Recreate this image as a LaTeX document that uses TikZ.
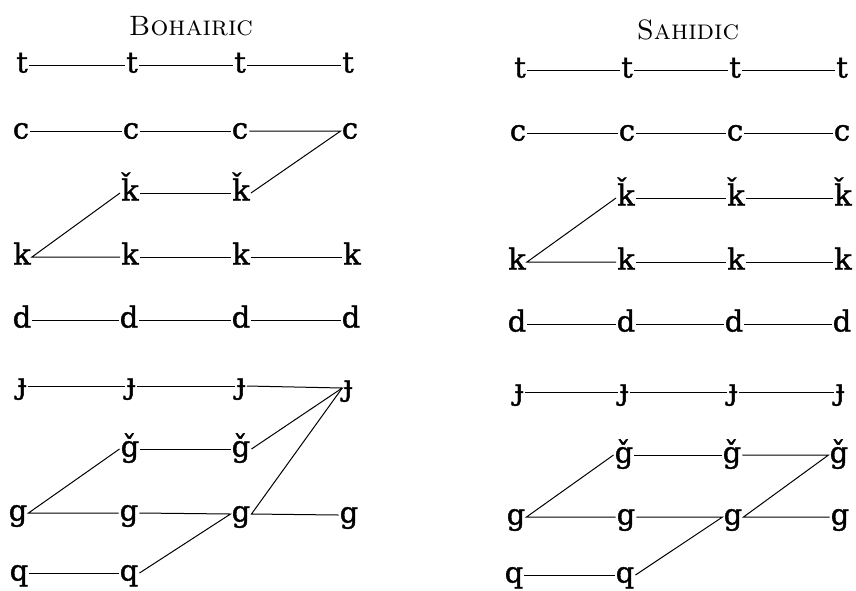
\documentclass[tikz,border=0pt]{standalone}
\usepackage{fontspec}
\newfontfamily\letterfont[FakeBold=1.3]{DejaVu Serif}
\begin{document}
\begin{tikzpicture}[x=1pt,y=-1pt,
  ltr/.style={font=\letterfont\fontsize{29}{34}\selectfont, inner sep=1pt, text height=20pt, text depth=5pt},
  ttl/.style={font=\fontsize{28}{32}\selectfont\scshape, inner sep=0pt, anchor=base},
  ln/.style={line width=1pt}]
\useasboundingbox (0,0) rectangle (856,590);
% titles
\node[ttl] (LT) at (191,35) {Bohairic};
\node[ttl] (RT) at (688,39) {Sahidic};
% ---------- Bohairic ----------
\node[ltr] (Lt1) at (22,65) {t};
\node[ltr] (Lt2) at (132,65) {t};
\node[ltr] (Lt3) at (240,65) {t};
\node[ltr] (Lt4) at (348,65) {t};
\node[ltr] (Lc1) at (21,131) {c};
\node[ltr] (Lc2) at (131,131) {c};
\node[ltr] (Lc3) at (240,131) {c};
\node[ltr] (Lc4) at (350,131) {c};
\node[ltr] (Lkh2) at (130,193) {ǩ};
\node[ltr] (Lkh3) at (241,193) {ǩ};
\node[ltr] (Lk1) at (22,257) {k};
\node[ltr] (Lk2) at (130,257) {k};
\node[ltr] (Lk3) at (241,257) {k};
\node[ltr] (Lk4) at (352,257) {k};
\node[ltr] (Ld1) at (22,320) {d};
\node[ltr] (Ld2) at (129,320) {d};
\node[ltr] (Ld3) at (241,320) {d};
\node[ltr] (Ld4) at (351,320) {d};
\node[ltr] (Lj1) at (22,386) {ɟ};
\node[ltr] (Lj2) at (131,386) {ɟ};
\node[ltr] (Lj3) at (241,386) {ɟ};
\node[ltr] (Lj4) at (348,388) {ɟ};
\node[ltr] (Lgh2) at (130,449) {ǧ};
\node[ltr] (Lgh3) at (241,449) {ǧ};
\node[ltr] (Lg1) at (18,513) {g};
\node[ltr] (Lg2) at (129,513) {g};
\node[ltr] (Lg3) at (241,514) {g};
\node[ltr] (Lg4) at (349,515) {g};
\node[ltr] (Lq1) at (19,573) {q};
\node[ltr] (Lq2) at (129,573) {q};
\draw[ln] (Lt1.east) -- (Lt2.west);
\draw[ln] (Lt2.east) -- (Lt3.west);
\draw[ln] (Lt3.east) -- (Lt4.west);
\draw[ln] (Lc1.east) -- (Lc2.west);
\draw[ln] (Lc2.east) -- (Lc3.west);
\draw[ln] (Lc3.east) -- (Lc4.west) -- (Lkh3.east);
\draw[ln] (Lkh2.east) -- (Lkh3.west);
\draw[ln] (Lkh2.west) -- (Lk1.east) -- (Lk2.west);
\draw[ln] (Lk2.east) -- (Lk3.west);
\draw[ln] (Lk3.east) -- (Lk4.west);
\draw[ln] (Ld1.east) -- (Ld2.west);
\draw[ln] (Ld2.east) -- (Ld3.west);
\draw[ln] (Ld3.east) -- (Ld4.west);
\draw[ln] (Lj1.east) -- (Lj2.west);
\draw[ln] (Lj2.east) -- (Lj3.west);
\draw[ln] (Lj3.east) -- (Lj4.west) -- (Lgh3.east);
\draw[ln] (Lj4.west) -- (Lg3.east) -- (Lg4.west);
\draw[ln] (Lgh2.east) -- (Lgh3.west);
\draw[ln] (Lgh2.west) -- (Lg1.east) -- (Lg2.west);
\draw[ln] (Lg2.east) -- (Lg3.west) -- (Lq2.east);
\draw[ln] (Lq1.east) -- (Lq2.west);
% ---------- Sahidic ----------
\node[ltr] (Rt1) at (520,70) {t};
\node[ltr] (Rt2) at (627,70) {t};
\node[ltr] (Rt3) at (735,70) {t};
\node[ltr] (Rt4) at (842,70) {t};
\node[ltr] (Rc1) at (518,133) {c};
\node[ltr] (Rc2) at (627,133) {c};
\node[ltr] (Rc3) at (735,133) {c};
\node[ltr] (Rc4) at (842,133) {c};
\node[ltr] (Rkh2) at (626,198) {ǩ};
\node[ltr] (Rkh3) at (736,198) {ǩ};
\node[ltr] (Rkh4) at (843,198) {ǩ};
\node[ltr] (Rk1) at (517,262) {k};
\node[ltr] (Rk2) at (626,262) {k};
\node[ltr] (Rk3) at (736,262) {k};
\node[ltr] (Rk4) at (843,262) {k};
\node[ltr] (Rd1) at (517,324) {d};
\node[ltr] (Rd2) at (626,324) {d};
\node[ltr] (Rd3) at (734,324) {d};
\node[ltr] (Rd4) at (842,324) {d};
\node[ltr] (Rj1) at (519,392) {ɟ};
\node[ltr] (Rj2) at (624,392) {ɟ};
\node[ltr] (Rj3) at (733,392) {ɟ};
\node[ltr] (Rj4) at (840,392) {ɟ};
\node[ltr] (Rgh2) at (624,455) {ǧ};
\node[ltr] (Rgh3) at (732,455) {ǧ};
\node[ltr] (Rgh4) at (839,455) {ǧ};
\node[ltr] (Rg1) at (516,517) {g};
\node[ltr] (Rg2) at (626,517) {g};
\node[ltr] (Rg3) at (733,517) {g};
\node[ltr] (Rg4) at (840,517) {g};
\node[ltr] (Rq1) at (514,575) {q};
\node[ltr] (Rq2) at (625,575) {q};
\draw[ln] (Rt1.east) -- (Rt2.west);
\draw[ln] (Rt2.east) -- (Rt3.west);
\draw[ln] (Rt3.east) -- (Rt4.west);
\draw[ln] (Rc1.east) -- (Rc2.west);
\draw[ln] (Rc2.east) -- (Rc3.west);
\draw[ln] (Rc3.east) -- (Rc4.west);
\draw[ln] (Rkh2.east) -- (Rkh3.west);
\draw[ln] (Rkh3.east) -- (Rkh4.west);
\draw[ln] (Rkh2.west) -- (Rk1.east) -- (Rk2.west);
\draw[ln] (Rk2.east) -- (Rk3.west);
\draw[ln] (Rk3.east) -- (Rk4.west);
\draw[ln] (Rd1.east) -- (Rd2.west);
\draw[ln] (Rd2.east) -- (Rd3.west);
\draw[ln] (Rd3.east) -- (Rd4.west);
\draw[ln] (Rj1.east) -- (Rj2.west);
\draw[ln] (Rj2.east) -- (Rj3.west);
\draw[ln] (Rj3.east) -- (Rj4.west);
\draw[ln] (Rgh2.east) -- (Rgh3.west);
\draw[ln] (Rgh3.east) -- (Rgh4.west) -- (Rg3.east) -- (Rg4.west);
\draw[ln] (Rgh2.west) -- (Rg1.east) -- (Rg2.west);
\draw[ln] (Rg2.east) -- (Rg3.west) -- (Rq2.east);
\draw[ln] (Rq1.east) -- (Rq2.west);
\end{tikzpicture}
\end{document}
